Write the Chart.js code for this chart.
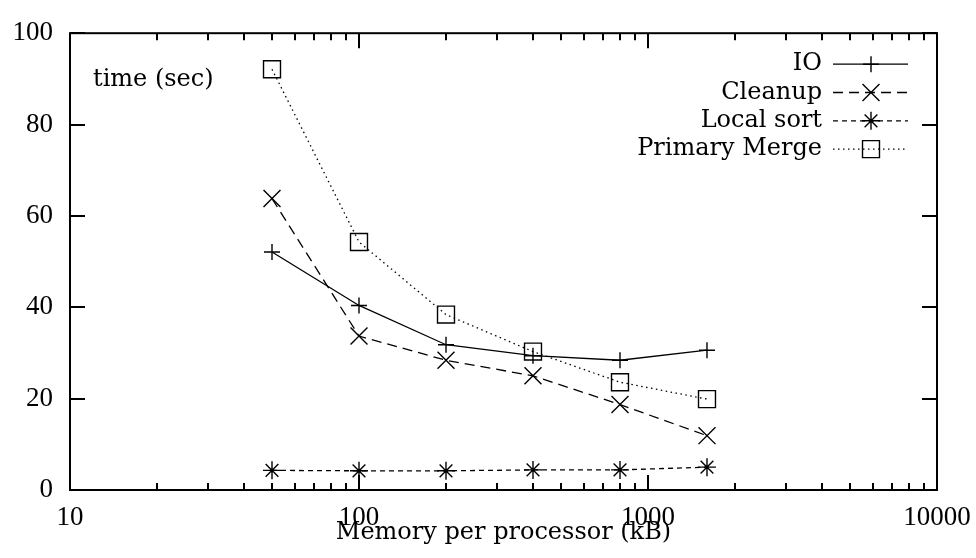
<!DOCTYPE html>
<html>
<head>
<meta charset="utf-8">
<script src="https://cdn.jsdelivr.net/npm/chart.js@4.4.1/dist/chart.umd.min.js"></script>
<style>
  html, body { margin: 0; padding: 0; background: #fff; }
</style>
</head>
<body>
<canvas id="chart" width="976" height="558"></canvas>
<script>
// values
const memoryKB = [50, 100, 200, 400, 800, 1600];
const ioTime = [52.1, 40.4, 31.8, 29.4, 28.4, 30.6];
const cleanupTime = [63.8, 33.7, 28.4, 25.0, 18.7, 11.9];
const localSortTime = [4.3, 4.2, 4.2, 4.4, 4.4, 5.0];
const primaryMergeTime = [92.1, 54.3, 38.4, 30.3, 23.6, 19.9];

const xTickLabels = [10, 100, 1000, 10000];
const yTicks = [0, 20, 40, 60, 80, 100];

const TEXT_FONT = "'DejaVu Serif', serif";
const TICK_FONT = "'Liberation Serif', serif";

const series = [
  { label: "IO", values: ioTime, point: "cross", radius: 8, dash: [] },
  { label: "Cleanup", values: cleanupTime, point: "crossRot", radius: 12, dash: [10, 6] },
  { label: "Local sort", values: localSortTime, point: "star", radius: 9, dash: [5, 4] },
  { label: "Primary Merge", values: primaryMergeTime, point: "rect", radius: 12, dash: [1.5, 3.5] },
];

// minor tick marks at every 1..9 step of each decade
const xTickMarks = [];
xTickLabels.slice(0, -1).forEach((decade) => {
  for (let k = 1; k < 10; k++) xTickMarks.push(decade * k);
});
xTickMarks.push(xTickLabels[xTickLabels.length - 1]);

function drawMarker(ctx, style, x, y, r) {
  ctx.beginPath();
  if (style === "cross" || style === "star") {
    ctx.moveTo(x - r, y); ctx.lineTo(x + r, y);
    ctx.moveTo(x, y - r); ctx.lineTo(x, y + r);
  }
  if (style === "crossRot" || style === "star") {
    const d = r * Math.SQRT1_2;
    ctx.moveTo(x - d, y - d); ctx.lineTo(x + d, y + d);
    ctx.moveTo(x - d, y + d); ctx.lineTo(x + d, y - d);
  }
  if (style === "rect") {
    const h = r * Math.SQRT1_2;
    ctx.rect(x - h, y - h, 2 * h, 2 * h);
  }
  ctx.stroke();
}

// gnuplot style border with inward ticks on all four sides
const frame = {
  id: "frame",
  beforeDatasetsDraw(chart) {
    const { ctx, chartArea: a, scales: { x, y } } = chart;
    ctx.save();
    ctx.strokeStyle = "#000";
    ctx.lineWidth = 2;
    ctx.strokeRect(a.left, a.top, a.right - a.left, a.bottom - a.top);
    ctx.beginPath();
    x.ticks.forEach((t) => {
      const px = Math.round(x.getPixelForValue(t.value));
      const len = xTickLabels.includes(t.value) ? 15 : 7;
      ctx.moveTo(px, a.bottom); ctx.lineTo(px, a.bottom - len);
      ctx.moveTo(px, a.top); ctx.lineTo(px, a.top + len);
    });
    y.ticks.forEach((t) => {
      const py = Math.round(y.getPixelForValue(t.value));
      ctx.moveTo(a.left, py); ctx.lineTo(a.left + 15, py);
      ctx.moveTo(a.right, py); ctx.lineTo(a.right - 15, py);
    });
    ctx.stroke();
    ctx.restore();
  },
  afterDraw(chart) {
    const { ctx, chartArea: a } = chart;
    ctx.save();
    ctx.fillStyle = "#000";
    ctx.strokeStyle = "#000";
    ctx.font = `24px ${TEXT_FONT}`;
    ctx.textBaseline = "middle";
    ctx.textAlign = "left";
    ctx.fillText("time (sec)", a.left + 23, a.top + 47);

    chart.data.datasets.forEach((ds, i) => {
      const rowY = a.top + 31 + i * 28.3;
      ctx.textAlign = "right";
      ctx.fillText(ds.label, a.right - 115, rowY);
      ctx.lineWidth = ds.borderWidth;
      ctx.setLineDash(ds.borderDash);
      ctx.beginPath();
      ctx.moveTo(a.right - 104, rowY);
      ctx.lineTo(a.right - 29, rowY);
      ctx.stroke();
      ctx.setLineDash([]);
      ctx.lineWidth = ds.pointBorderWidth;
      drawMarker(ctx, ds.pointStyle, a.right - 66, rowY, ds.pointRadius);
    });
    ctx.restore();
  },
};

new Chart(document.getElementById("chart"), {
  type: "line",
  data: {
    datasets: series.map((s) => ({
      label: s.label,
      data: memoryKB.map((m, i) => ({ x: m, y: s.values[i] })),
      borderColor: "#000",
      borderWidth: 1.3,
      borderDash: s.dash,
      pointStyle: s.point,
      pointRadius: s.radius,
      pointBorderWidth: 1.4,
      pointBorderColor: "#000",
      pointBackgroundColor: "rgba(0,0,0,0)",
      tension: 0,
      fill: false,
    })),
  },
  options: {
    responsive: false,
    animation: false,
    layout: { padding: { top: 20, right: 39, bottom: 0, left: 0 } },
    plugins: {
      legend: { display: false },
      tooltip: { enabled: false },
    },
    scales: {
      x: {
        type: "logarithmic",
        min: 10,
        max: 10000,
        grid: { display: false, drawTicks: false },
        border: { display: false },
        afterBuildTicks: (scale) => {
          scale.ticks = xTickMarks.map((v) => ({ value: v }));
        },
        afterFit: (scale) => {
          scale.height = 68;
          scale.paddingLeft = 0;
          scale.paddingRight = 0;
        },
        ticks: {
          autoSkip: false,
          maxRotation: 0,
          padding: 12,
          color: "#000",
          font: { family: TICK_FONT, size: 27 },
          callback: (v) => (xTickLabels.includes(v) ? String(v) : ""),
        },
        title: {
          display: true,
          text: "Memory per processor (kB)",
          color: "#000",
          font: { family: TEXT_FONT, size: 24 },
          padding: { top: 0, bottom: 11 },
        },
      },
      y: {
        min: 0,
        max: 100,
        grid: { display: false, drawTicks: false },
        border: { display: false },
        afterBuildTicks: (scale) => {
          scale.ticks = yTicks.map((v) => ({ value: v }));
        },
        afterFit: (scale) => {
          scale.width = 70;
        },
        ticks: {
          padding: 17,
          color: "#000",
          font: { family: TICK_FONT, size: 27 },
        },
      },
    },
  },
  plugins: [frame],
});
</script>
</body>
</html>
